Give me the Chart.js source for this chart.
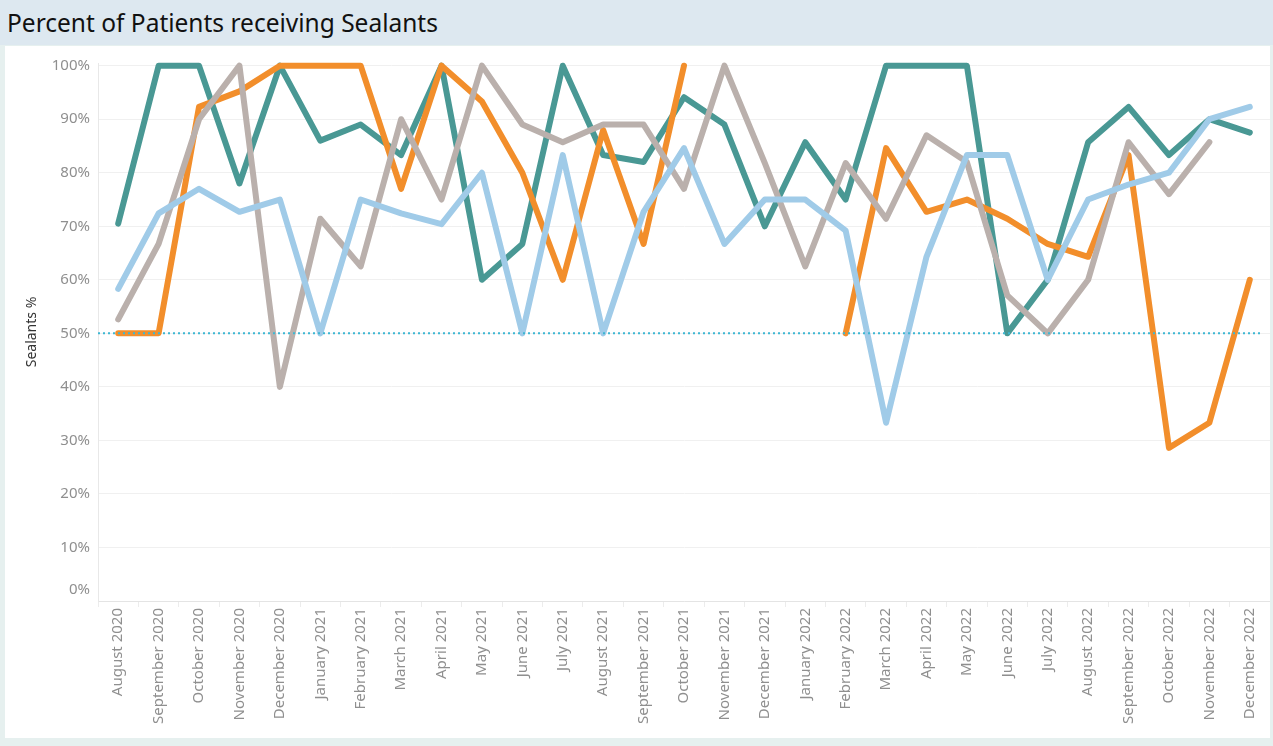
<!DOCTYPE html>
<html>
<head>
<meta charset="utf-8">
<script src="https://cdn.jsdelivr.net/npm/chart.js@4"></script>
<style>
    html, body { margin: 0; padding: 0; }
    body { width: 1273px; height: 746px; background: #e6f0ef; position: relative; overflow: hidden; font-family: "Noto Sans", sans-serif; }
    .title-bar { position: absolute; left: 0; top: 0; width: 1273px; height: 45px; background: #dde8f0; }
    .title-bar h1 { margin: 0; position: absolute; left: 7px; top: 6px; font-size: 24.5px; font-weight: 400; color: #111; }
    .panel { position: absolute; left: 5px; top: 46px; width: 1265px; height: 692px; background: #fff; }
    .panel canvas { position: absolute; left: 0; top: 0; }
</style>
</head>
<body>
<div class="title-bar"><h1>Percent of Patients receiving Sealants</h1></div>
<div class="panel"><canvas id="sealantChart" width="1265" height="692"></canvas></div>

<script>
// monthly categories
const months = [
    'August 2020', 'September 2020', 'October 2020', 'November 2020', 'December 2020',
    'January 2021', 'February 2021', 'March 2021', 'April 2021', 'May 2021', 'June 2021',
    'July 2021', 'August 2021', 'September 2021', 'October 2021', 'November 2021', 'December 2021',
    'January 2022', 'February 2022', 'March 2022', 'April 2022', 'May 2022', 'June 2022',
    'July 2022', 'August 2022', 'September 2022', 'October 2022', 'November 2022', 'December 2022'
];

// series values (percent)
const tealValues = [70.5, 100, 100, 78, 100, 86, 89, 83.3, 100, 60, 66.7, 100, 83.3, 82, 94.1, 89, 70,
    85.7, 75, 100, 100, 100, 50, 60, 85.7, 92.3, 83.3, 90, 87.5];
const orangeValues = [50, 50, 92.3, 95.2, 100, 100, 100, 77, 100, 93.3, 80, 60, 88, 66.7, 100, null, null,
    null, 50, 84.6, 72.7, 75, 71.4, 66.7, 64.3, 83.3, 28.6, 33.3, 60];
const blueValues = [58.3, 72.4, 77, 72.7, 75, 50, 75, 72.4, 70.4, 80, 50, 83.3, 50, 72.7, 84.6, 66.7, 75,
    75, 69.2, 33.3, 64.3, 83.3, 83.3, 60, 75, 77.8, 80, 90, 92.3];
const greyValues = [52.6, 66.7, 90, 100, 40, 71.4, 62.5, 90, 75, 100, 89, 85.7, 89, 89, 77, 100, 81.8,
    62.5, 81.8, 71.4, 87, 82, 57.1, 50, 60, 85.7, 76, 85.7, null];

// y axis tick labels
const yTickValues = [0, 10, 20, 30, 40, 50, 60, 70, 80, 90, 100];

// dotted reference line
const targetLine = 50;

document.addEventListener('DOMContentLoaded', function() {
    const ctx = document.getElementById('sealantChart').getContext('2d');
    const tickFont = { family: 'Noto Sans', size: 15 };
    const tickColor = '#8f8f8f';

    // draws the dotted 50% line across the plot
    const targetLinePlugin = {
        id: 'targetLine',
        afterDatasetsDraw: function(chart) {
            const y = chart.scales.y.getPixelForValue(targetLine);
            const area = chart.chartArea;
            const c = chart.ctx;
            c.save();
            c.strokeStyle = '#3db7d3';
            c.lineWidth = 2;
            c.setLineDash([2, 3]);
            c.beginPath();
            c.moveTo(area.left, y);
            c.lineTo(area.right - 10, y);
            c.stroke();
            c.restore();
        }
    };

    // the 0% label sits a little above its gridline, like the original
    const zeroLabelPlugin = {
        id: 'zeroLabel',
        afterDraw: function(chart) {
            const scale = chart.scales.y;
            const c = chart.ctx;
            c.save();
            c.font = tickFont.size + 'px ' + tickFont.family;
            c.fillStyle = tickColor;
            c.textAlign = 'right';
            c.textBaseline = 'middle';
            c.fillText(yTickValues[0] + '%', scale.right - 8, scale.getPixelForValue(yTickValues[0]) - 11);
            c.restore();
        }
    };

    const lineStyle = {
        borderWidth: 6,
        pointRadius: 0,
        pointHoverRadius: 0,
        tension: 0,
        spanGaps: false,
        borderJoinStyle: 'round',
        borderCapStyle: 'round',
        clip: false
    };

    new Chart(ctx, {
        type: 'line',
        data: {
            labels: months,
            datasets: [
                Object.assign({ label: 'Series 3', data: blueValues, borderColor: '#a0cbe8', order: 1 }, lineStyle),
                Object.assign({ label: 'Series 4', data: greyValues, borderColor: '#bab0ac', order: 2 }, lineStyle),
                Object.assign({ label: 'Series 2', data: orangeValues, borderColor: '#f28e2b', order: 3 }, lineStyle),
                Object.assign({ label: 'Series 1', data: tealValues, borderColor: '#499894', order: 4 }, lineStyle)
            ]
        },
        plugins: [targetLinePlugin, zeroLabelPlugin],
        options: {
            responsive: false,
            animation: false,
            layout: {
                padding: { top: 4, right: 0, bottom: 0, left: 0 }
            },
            plugins: {
                legend: { display: false },
                tooltip: { enabled: false }
            },
            scales: {
                x: {
                    offset: true,
                    grid: {
                        display: true,
                        offset: true,
                        drawOnChartArea: false,
                        drawTicks: true,
                        tickLength: 6,
                        color: '#ececec'
                    },
                    border: { display: true, color: '#e4e4e4' },
                    ticks: {
                        autoSkip: false,
                        maxRotation: 90,
                        minRotation: 90,
                        padding: 1,
                        color: tickColor,
                        font: tickFont
                    },
                    afterFit: function(scale) {
                        scale.height = 137;
                    }
                },
                y: {
                    min: 0,
                    max: 100.5,
                    afterBuildTicks: function(scale) {
                        scale.ticks = yTickValues.map(v => ({ value: v }));
                    },
                    grid: {
                        color: '#f0f0f0',
                        drawTicks: false
                    },
                    border: { display: true, color: '#e8e8e8' },
                    ticks: {
                        padding: 8,
                        color: tickColor,
                        font: tickFont,
                        callback: function(value) {
                            return value === 0 ? '' : value + '%';
                        }
                    },
                    title: {
                        display: true,
                        text: 'Sealants %',
                        color: '#333',
                        font: { family: 'Noto Sans', size: 14 },
                        padding: { top: 19, bottom: 4 }
                    },
                    afterFit: function(scale) {
                        scale.width = 93;
                    }
                }
            }
        }
    });
});
</script>
</body>
</html>
